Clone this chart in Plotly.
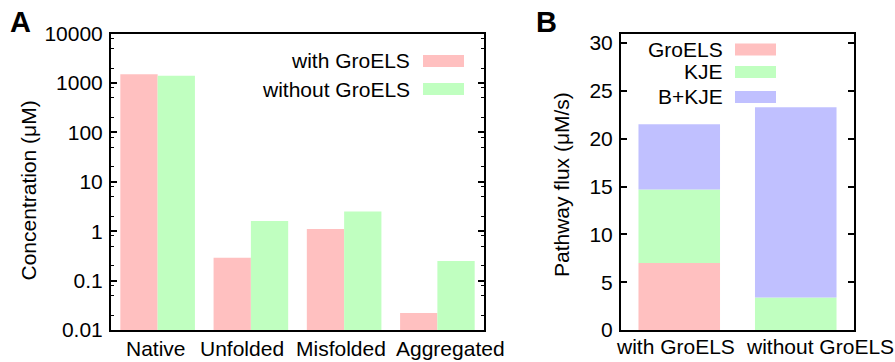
import plotly.graph_objects as go

# ---------------- data ----------------
states = ["Native", "Unfolded", "Misfolded", "Aggregated"]
with_groels = [1500, 0.29, 1.1, 0.022]
without_groels = [1400, 1.6, 2.5, 0.25]
series_a = ["with GroELS", "without GroELS"]

conditions = ["with GroELS", "without GroELS"]
flux_groels = [7.0, 0.0]
flux_kje = [7.7, 3.4]
flux_bkje = [6.8, 19.9]
series_b = ["GroELS", "KJE", "B+KJE"]

y_ticks_a = [0.01, 0.1, 1, 10, 100, 1000, 10000]
y_ticklabels_a = ["0.01", "0.1", "1", "10", "100", "1000", "10000"]
y_ticks_b = [0, 5, 10, 15, 20, 25, 30]

# ---------------- styles ----------------
PINK, GREEN, BLUE = "#ffc0c0", "#c0ffc0", "#c0c0ff"
FONT = "Liberation Sans, Arial, sans-serif"
FS = 21
W, H = 895, 362


def px(x):
    return x / W


def py(y):
    return 1 - y / H


fig = go.Figure()

# Panel A grouped bars
fig.add_trace(go.Bar(x=states, y=with_groels, name=series_a[0], marker=dict(color=PINK, line=dict(width=0)),
                     xaxis="x", yaxis="y", width=0.4, offset=-0.4))
fig.add_trace(go.Bar(x=states, y=without_groels, name=series_a[1], marker=dict(color=GREEN, line=dict(width=0)),
                     xaxis="x", yaxis="y", width=0.4, offset=0.0))

# Panel B stacked bars (explicit bases)
base_kje = list(flux_groels)
base_bkje = [a + b for a, b in zip(flux_groels, flux_kje)]
for vals, base, col, nm in [(flux_groels, [0, 0], PINK, series_b[0]),
                            (flux_kje, base_kje, GREEN, series_b[1]),
                            (flux_bkje, base_bkje, BLUE, series_b[2])]:
    fig.add_trace(go.Bar(x=conditions, y=vals, base=base, name=nm, marker=dict(color=col, line=dict(width=0)),
                         xaxis="x2", yaxis="y2", width=0.7, offset=-0.35))

dom_y = [py(330), py(33.5)]
axis_common = dict(showline=True, linewidth=2, linecolor="black", mirror=True,
                   tickfont=dict(family=FONT, size=FS, color="black"),
                   showgrid=False, zeroline=False, automargin=False)

minor_a = [m * 10 ** k for k in range(-2, 4) for m in (2, 5, 8)]

fig.update_layout(
    width=W, height=H,
    margin=dict(l=0, r=0, t=0, b=0, autoexpand=False),
    paper_bgcolor="white", plot_bgcolor="white",
    showlegend=False,
    barmode="overlay",
    font=dict(family=FONT, size=FS, color="black"),
    xaxis=dict(domain=[px(111), px(484)], type="category", range=[-0.5, 3.5],
               showticklabels=False, ticks="", **axis_common),
    yaxis=dict(domain=dom_y, type="log", range=[-2, 4], tickvals=y_ticks_a, ticktext=y_ticklabels_a,
               ticks="inside", ticklen=6, tickwidth=1.5, tickcolor="black", ticklabelstandoff=2,
               minor=dict(tickvals=minor_a, ticks="inside", ticklen=3, tickwidth=1, tickcolor="black"),
               **{**axis_common, "mirror": "allticks"}),
    xaxis3=dict(domain=[px(111), px(484)], overlaying="x", side="top", anchor="y", range=[-0.5, 3.5],
                tickvals=[0, 1, 2, 3], ticks="inside", ticklen=5, tickcolor="black", showticklabels=False,
                showline=False, showgrid=False, zeroline=False, automargin=False),
    xaxis2=dict(domain=[px(621), px(854)], type="category", range=[-0.5, 1.5], anchor="y2",
                showticklabels=False, ticks="", **axis_common),
    yaxis2=dict(domain=dom_y, anchor="x2", range=[0, 31], tickvals=y_ticks_b,
                ticks="inside", ticklen=6, tickwidth=1.5, tickcolor="black", ticklabelstandoff=2,
                **{**axis_common, "mirror": "allticks"}),
    xaxis4=dict(domain=[px(621), px(854)], overlaying="x2", side="top", anchor="y2", range=[-0.5, 1.5],
                tickvals=[0, 1], ticks="inside", ticklen=5, tickcolor="black", showticklabels=False,
                showline=False, showgrid=False, zeroline=False, automargin=False),
)

ann = []
# panel labels
ann.append(dict(text="<b>A</b>", x=px(20), y=py(22), xref="paper", yref="paper", showarrow=False,
                font=dict(size=29, family=FONT), xanchor="center", yanchor="middle"))
ann.append(dict(text="<b>B</b>", x=px(546), y=py(22), xref="paper", yref="paper", showarrow=False,
                font=dict(size=29, family=FONT), xanchor="center", yanchor="middle"))
# axis titles
ann.append(dict(text="Concentration (μM)", x=px(28), y=py(190.5), xref="paper", yref="paper", showarrow=False,
                textangle=-90, font=dict(size=FS), xanchor="center", yanchor="middle"))
ann.append(dict(text="Pathway flux (μM/s)", x=px(561), y=py(185), xref="paper", yref="paper", showarrow=False,
                textangle=-90, font=dict(size=FS), xanchor="center", yanchor="middle"))
# category labels
shifts_a = [-1.5, -9, -3, 13]
for c, s in zip(states, shifts_a):
    ann.append(dict(text=c, x=c, xref="x", y=py(348), yref="paper", xshift=s, showarrow=False,
                    font=dict(size=FS), xanchor="center", yanchor="middle"))
shifts_b = [-4, 24]
for c, s in zip(conditions, shifts_b):
    ann.append(dict(text=c, x=c, xref="x2", y=py(346), yref="paper", xshift=s, showarrow=False,
                    font=dict(size=FS), xanchor="center", yanchor="middle"))

shapes = []
# legend A
for nm, col, yc in zip(series_a, [PINK, GREEN], [61, 89]):
    ann.append(dict(text=nm, x=px(412), y=py(yc), xref="paper", yref="paper", showarrow=False,
                    font=dict(size=FS), xanchor="right", yanchor="middle"))
    shapes.append(dict(type="rect", xref="paper", yref="paper", x0=px(423), x1=px(464),
                       y0=py(yc + 6), y1=py(yc - 6), fillcolor=col, line=dict(width=0)))
# legend B
for nm, col, yc in zip(series_b, [PINK, GREEN, BLUE], [49.5, 72, 97]):
    ann.append(dict(text=nm, x=px(725), y=py(yc), xref="paper", yref="paper", showarrow=False,
                    font=dict(size=FS), xanchor="right", yanchor="middle"))
    shapes.append(dict(type="rect", xref="paper", yref="paper", x0=px(735), x1=px(776),
                       y0=py(yc + 6), y1=py(yc - 6), fillcolor=col, line=dict(width=0)))

fig.update_layout(annotations=ann, shapes=shapes)
fig.write_html("out.html")
